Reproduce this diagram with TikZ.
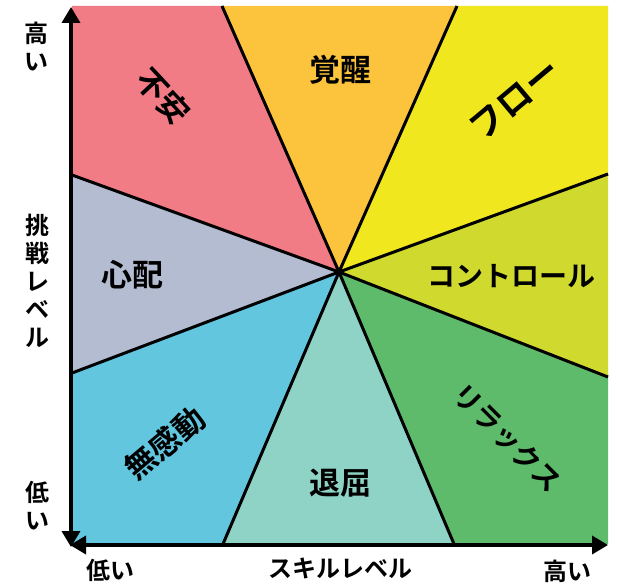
\documentclass[tikz,border=0pt]{standalone}
\usepackage{fontspec}
\newfontfamily\jpfont{Noto Sans CJK JP}[BoldFont={Noto Sans CJK JP Bold}]
\usetikzlibrary{arrows.meta}
\definecolor{anxiety}{HTML}{F27C85}
\definecolor{arousal}{HTML}{FCC43C}
\definecolor{flow}{HTML}{F1E71E}
\definecolor{control}{HTML}{D0D92D}
\definecolor{relax}{HTML}{5DBB6B}
\definecolor{boredom}{HTML}{8FD3C6}
\definecolor{apathy}{HTML}{63C6DF}
\definecolor{worry}{HTML}{B4BCD2}

\begin{document}
\begin{tikzpicture}[x=1pt, y=-1pt,
    border/.style={line width=3pt},
    axis/.style={line width=3.5pt, {Triangle[length=16pt,width=18pt]}-{Triangle[length=16pt,width=18pt]}},
    zone/.style={font=\jpfont\bfseries\fontsize{31}{31}\selectfont, inner sep=0pt},
    axislabel/.style={font=\jpfont\bfseries\fontsize{24}{28}\selectfont, align=center, inner sep=0pt}]
			%%%%% START %%%%%
			\useasboundingbox (0, 0) rectangle (618, 585);
			
			\coordinate (c) at (339, 272);
			\coordinate (tl) at (72, 6);
			\coordinate (tr) at (608, 6);
			\coordinate (br) at (608, 544);
			\coordinate (bl) at (72, 544);
			\coordinate (t1) at (222, 6);
			\coordinate (t2) at (457, 6);
			\coordinate (r1) at (608, 174);
			\coordinate (r2) at (608, 377);
			\coordinate (b2) at (454, 544);
			\coordinate (b1) at (223, 544);
			\coordinate (l2) at (72, 373);
			\coordinate (l1) at (72, 175);
			
			\fill[anxiety] (c) -- (l1) -- (tl) -- (t1) -- cycle;
			\fill[arousal] (c) -- (t1) -- (t2) -- cycle;
			\fill[flow] (c) -- (t2) -- (tr) -- (r1) -- cycle;
			\fill[control] (c) -- (r1) -- (r2) -- cycle;
			\fill[relax] (c) -- (r2) -- (br) -- (b2) -- cycle;
			\fill[boredom] (c) -- (b2) -- (b1) -- cycle;
			\fill[apathy] (c) -- (b1) -- (bl) -- (l2) -- cycle;
			\fill[worry] (c) -- (l2) -- (l1) -- cycle;
			
			\foreach \p in {t1, t2, r1, r2, b2, b1, l2, l1}
				\draw[border] (c) -- (\p);
			
			% axes
			\coordinate (ytop) at (71, 7);
			\coordinate (ybot) at (71, 547);
			\coordinate (xleft) at (70, 545);
			\coordinate (xright) at (608, 545);
			\draw[axis] (ybot) -- (ytop);
			\draw[axis] (xleft) -- (xright);
			
			\node[axislabel] (yhigh) at (36, 47) {高\\い};
			\node[axislabel] (yname) at (37, 281) {挑\\戦\\レ\\ベ\\ル};
			\node[axislabel] (ylow) at (37, 506) {低\\い};
			\node[axislabel] (xlow) at (110, 570) {低い};
			\node[axislabel] (xname) at (340, 568) {スキルレベル};
			\node[axislabel] (xhigh) at (567, 571) {高い};
			
			% zones
			\node[zone, rotate=-47] (anx) at (163, 96) {不安};
			\node[zone] (aro) at (340, 70) {覚醒};
			\node[zone, rotate=40, font=\jpfont\bfseries\fontsize{35}{35}\selectfont] (flw) at (515, 100) {フロー};
			\node[zone] (wor) at (132, 275) {心配};
			\node[zone, font=\jpfont\bfseries\fontsize{28}{28}\selectfont] (ctl) at (511, 276) {コントロール};
			\node[zone, rotate=40] (apa) at (165, 443) {無感動};
			\node[zone] (bor) at (340, 483) {退屈};
			\node[zone, rotate=-45, font=\jpfont\bfseries\fontsize{28}{28}\selectfont] (rlx) at (507, 438) {リラックス};
			%%%%% END %%%%%
\end{tikzpicture}
\end{document}
